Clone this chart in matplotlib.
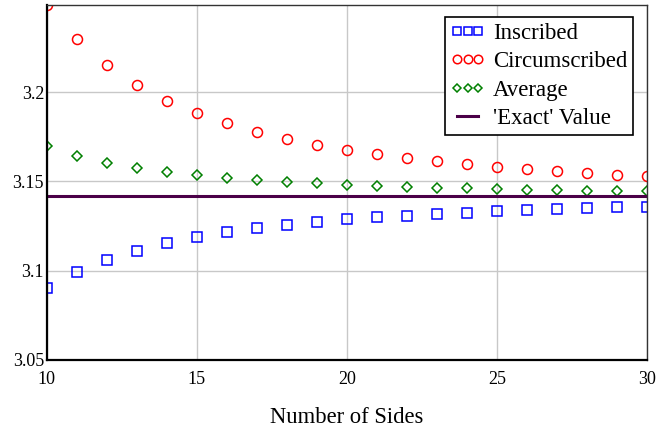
import numpy as np
import matplotlib.pyplot as plt

plt.rcParams['font.family'] = ['Liberation Serif', 'DejaVu Serif']

# polygon side counts and perimeter/diameter estimates of pi
sides = np.arange(10, 31)
inscribed = [3.0902, 3.0991, 3.1058, 3.1111, 3.1153, 3.1187, 3.1214, 3.1237,
             3.1257, 3.1273, 3.1287, 3.1299, 3.1309, 3.1318, 3.1326, 3.1333,
             3.1340, 3.1345, 3.1350, 3.1355, 3.1359]
circumscribed = [3.2492, 3.2299, 3.2154, 3.2042, 3.1954, 3.1883, 3.1826, 3.1779,
                 3.1739, 3.1705, 3.1677, 3.1652, 3.1631, 3.1613, 3.1597, 3.1582,
                 3.1570, 3.1558, 3.1548, 3.1539, 3.1531]
average = [3.1697, 3.1645, 3.1606, 3.1577, 3.1554, 3.1535, 3.1520, 3.1508,
           3.1498, 3.1489, 3.1482, 3.1476, 3.1470, 3.1466, 3.1461, 3.1458,
           3.1455, 3.1452, 3.1449, 3.1447, 3.1445]
exact = 3.14159

fig = plt.figure(figsize=(6.69, 4.34), dpi=100)
ax = fig.add_axes([0.070, 0.171, 0.897, 0.8175])

ax.plot(sides, inscribed, 's', ls='none', mfc='none', mec='#0000ff', mew=1.1, ms=6.5,
        label='Inscribed')
ax.plot(sides, circumscribed, 'o', ls='none', mfc='none', mec='#ff0000', mew=1.1, ms=7.2,
        label='Circumscribed')
ax.plot(sides, average, 'D', ls='none', mfc='none', mec='#008000', mew=1.1, ms=5.2,
        label='Average')
ax.axhline(exact, color='#4b0048', lw=2.2, label="'Exact' Value")

ax.set_xlim(10, 30)
ax.set_ylim(3.05, 3.249)
ax.set_xticks([10, 15, 20, 25, 30])
ax.set_yticks([3.05, 3.1, 3.15, 3.2])
ax.set_yticklabels(['3.05', '3.1', '3.15', '3.2'])
ax.tick_params(length=0, labelsize=13)
ax.tick_params(axis='y', pad=2)
ax.tick_params(axis='x', pad=8)
ax.grid(True, color='#c8c8c8', lw=1)
ax.set_axisbelow(True)

for side in ['left', 'bottom']:
    ax.spines[side].set_linewidth(1.6)
for side in ['top', 'right']:
    ax.spines[side].set_linewidth(1.0)
    ax.spines[side].set_color('#333333')

ax.set_xlabel('Number of Sides', fontsize=16.3, labelpad=14)

leg = ax.legend(loc='upper right', bbox_to_anchor=(0.977, 0.966), numpoints=3,
                fontsize=16.5, frameon=True, fancybox=False, framealpha=1,
                edgecolor='black', borderpad=0.25, labelspacing=0.32,
                handlelength=1.5, handletextpad=0.35, borderaxespad=0,
                markerscale=0.85)
leg.get_frame().set_linewidth(1.2)

fig.savefig('out.png', dpi=100)
